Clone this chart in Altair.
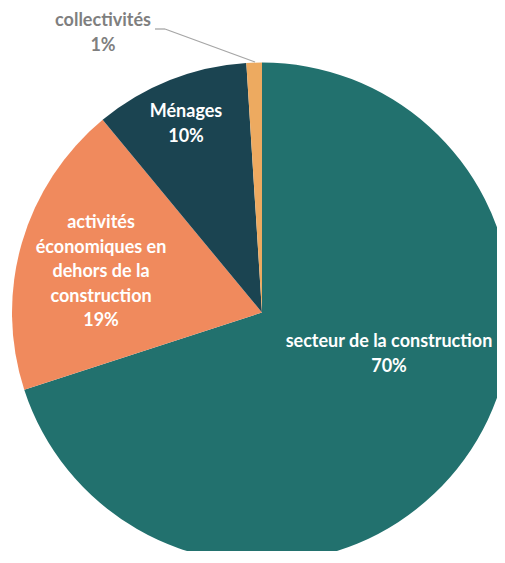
import altair as alt
import pandas as pd

categories = [
    "secteur de la construction",
    "activités économiques en dehors de la construction",
    "Ménages",
    "collectivités",
]
label_lines = [
    ["secteur de la construction"],
    ["activités", "économiques en", "dehors de la", "construction"],
    ["Ménages"],
    ["collectivités"],
]
values = [70, 19, 10, 1]
colors = ["#22716E", "#F08A5D", "#1B4451", "#EDAA60"]

df = pd.DataFrame({"cat": categories, "value": values, "order": list(range(len(values)))})

CX, CY, R = 254, 304.5, 250

pie = alt.Chart(df).mark_arc().encode(
    x=alt.value(CX),
    y=alt.value(CY),
    radius=alt.value(R),
    theta=alt.Theta("value:Q", stack=True),
    color=alt.Color("cat:N", scale=alt.Scale(domain=categories, range=colors), legend=None),
    order=alt.Order("order:Q"),
)

# label placement (annotation layout, not data): x centre, y of first line
label_pos = [(381, 334, "white"), (93, 215, "white"), (178, 104, "white"), (95, 13, "#7F7F7F")]

layers = [pie]
for i, (lx, ly, col) in enumerate(label_pos):
    txt = "\n".join(label_lines[i] + [f"{values[i]}%"])
    ldf = pd.DataFrame({"t": [txt]})
    layers.append(
        alt.Chart(ldf).mark_text(
            font="Lato", fontSize=18, fontWeight="bold", color=col,
            align="center", baseline="middle", lineBreak="\n", lineHeight=24.5,
        ).encode(text="t:N", x=alt.value(lx), y=alt.value(ly))
    )

# leader line for the small slice
lead = pd.DataFrame({"a": [0]})
rule1 = alt.Chart(lead).mark_rule(color="#A6A6A6", strokeWidth=1.3).encode(
    x=alt.value(147), x2=alt.value(157), y=alt.value(21), y2=alt.value(21))
rule2 = alt.Chart(lead).mark_rule(color="#A6A6A6", strokeWidth=1.3).encode(
    x=alt.value(157), x2=alt.value(247), y=alt.value(21), y2=alt.value(54))
layers += [rule1, rule2]

chart = alt.layer(*layers).properties(
    width=489, height=543, padding=0,
    autosize=alt.AutoSizeParams(type="none"),
).configure_view(stroke=None)

chart.save("out.html", embed_options={"renderer": "svg", "actions": False})
